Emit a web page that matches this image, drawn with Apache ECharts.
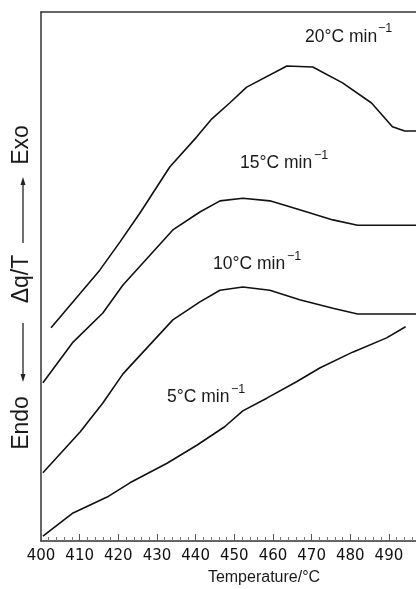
<!DOCTYPE html>
<html>
<head>
<meta charset="utf-8">
<script src="https://cdn.jsdelivr.net/npm/echarts@6/dist/echarts.min.js"></script>
<style>html,body{margin:0;padding:0;background:#fff}#c{width:416px;height:589px}</style>
</head>
<body>
<div id="c"></div>
<script>
// Temperature (°C) and Δq/T (arbitrary units, 0–100 across plot height)
const temps20 = [402.6, 415.2, 420.4, 425.6, 433.3, 440.3, 444.2, 448.8, 453.2, 463.6, 470.3, 478.0, 485.5, 490.9, 494.1, 497.0];
const vals20  = [40.3, 51.2, 56.5, 62.0, 70.7, 76.4, 79.8, 82.8, 85.8, 89.8, 89.6, 86.6, 82.8, 78.3, 77.5, 77.5];
const temps15 = [400.5, 408.3, 416.0, 421.2, 434.1, 441.1, 446.3, 452.2, 459.2, 466.9, 475.5, 481.9, 497.0];
const vals15  = [29.9, 37.6, 43.1, 48.4, 58.8, 62.2, 64.3, 64.8, 64.3, 62.6, 60.7, 59.7, 59.7];
const temps10 = [400.5, 410.1, 416.0, 421.2, 434.1, 441.1, 446.3, 452.2, 459.2, 466.9, 475.5, 481.9, 497.0];
const vals10  = [12.9, 20.6, 26.1, 31.6, 41.8, 45.2, 47.4, 48.0, 47.4, 45.6, 44.0, 42.9, 42.9];
const temps5  = [400.5, 408.3, 417.1, 423.0, 432.6, 440.3, 447.5, 452.2, 458.4, 466.1, 472.1, 480.6, 489.4, 494.3];
const vals5   = [0.9, 5.3, 8.3, 11.0, 14.7, 18.1, 21.6, 24.6, 27.0, 30.1, 32.7, 35.7, 38.4, 40.5];
const xTicks = [400, 410, 420, 430, 440, 450, 460, 470, 480, 490];
const rateLabels = ['20°C min', '15°C min', '10°C min', '5°C min'];
const supText = '\u22121';

function pairs(xs, ys) { return xs.map((x, i) => [x, ys[i]]); }

const chart = echarts.init(document.getElementById('c'));
const lineStyle = { color: '#111', width: 1.6 };
const axisCol = '#333';
const labelFont = { fontFamily: 'Liberation Sans', fill: '#1a1a1a' };

const labelPos = [
  { x: 305, y: 37, sx: 378, sy: 29 },
  { x: 240, y: 163, sx: 314, sy: 156 },
  { x: 213, y: 264, sx: 287, sy: 257 },
  { x: 167, y: 397, sx: 231, sy: 390 }
];
const graphics = [];
rateLabels.forEach((t, i) => {
  const p = labelPos[i];
  graphics.push({ type: 'text', x: p.x, y: p.y, style: Object.assign({ text: t, fontSize: 17.5, align: 'left', verticalAlign: 'middle' }, labelFont) });
  graphics.push({ type: 'text', x: p.sx, y: p.sy, style: Object.assign({ text: supText, fontSize: 12.5, align: 'left', verticalAlign: 'middle' }, labelFont) });
});
// rotated y-axis annotation
const yTxt = [['Exo', 145], ['\u0394q/T', 279], ['Endo', 423]];
yTxt.forEach(([t, y]) => {
  graphics.push({ type: 'text', x: 22, y: y, rotation: Math.PI / 2,
    style: Object.assign({ text: t, fontSize: 23, align: 'center', verticalAlign: 'middle' }, labelFont) });
});
graphics.push({ type: 'line', shape: { x1: 23, y1: 243, x2: 23, y2: 183 }, style: { stroke: '#222', lineWidth: 1.3 } });
graphics.push({ type: 'polygon', shape: { points: [[23, 177], [20.5, 185], [25.5, 185]] }, style: { fill: '#222' } });
graphics.push({ type: 'line', shape: { x1: 23, y1: 323, x2: 23, y2: 375 }, style: { stroke: '#222', lineWidth: 1.3 } });
graphics.push({ type: 'polygon', shape: { points: [[23, 382], [20.5, 374], [25.5, 374]] }, style: { fill: '#222' } });
// x-axis title
graphics.push({ type: 'text', x: 264, y: 578, style: Object.assign({ text: 'Temperature/°C', fontSize: 16, align: 'center', verticalAlign: 'middle' }, labelFont) });

chart.setOption({
  animation: false,
  grid: { left: 41, top: 12, right: 0, bottom: 48 },
  xAxis: [{
    type: 'value', min: 400, max: 497, interval: 10,
    axisLine: { show: true, lineStyle: { color: axisCol, width: 1.5 } },
    axisTick: { show: true, inside: true, length: 7, lineStyle: { color: '#555', width: 1 } },
    minorTick: { show: true, splitNumber: 5, length: 4, lineStyle: { color: '#777', width: 1 } },
    axisLabel: { margin: 8, fontFamily: 'DejaVu Sans', fontSize: 15, color: '#111',
      formatter: v => (xTicks.indexOf(v) >= 0 ? String(v) : ''), showMaxLabel: false },
    splitLine: { show: false }
  }, {
    type: 'value', position: 'top', min: 400, max: 497,
    axisLine: { show: true, lineStyle: { color: axisCol, width: 1.5 } },
    axisTick: { show: false }, axisLabel: { show: false }, splitLine: { show: false }
  }],
  yAxis: {
    type: 'value', min: 0, max: 100,
    axisLine: { show: true, lineStyle: { color: axisCol, width: 1.5 } },
    axisTick: { show: false }, axisLabel: { show: false }, splitLine: { show: false }
  },
  series: [
    { type: 'line', data: pairs(temps20, vals20), symbol: 'none', lineStyle: lineStyle },
    { type: 'line', data: pairs(temps15, vals15), symbol: 'none', lineStyle: lineStyle },
    { type: 'line', data: pairs(temps10, vals10), symbol: 'none', lineStyle: lineStyle },
    { type: 'line', data: pairs(temps5, vals5), symbol: 'none', lineStyle: lineStyle }
  ],
  graphic: graphics
});
</script>
</body>
</html>
